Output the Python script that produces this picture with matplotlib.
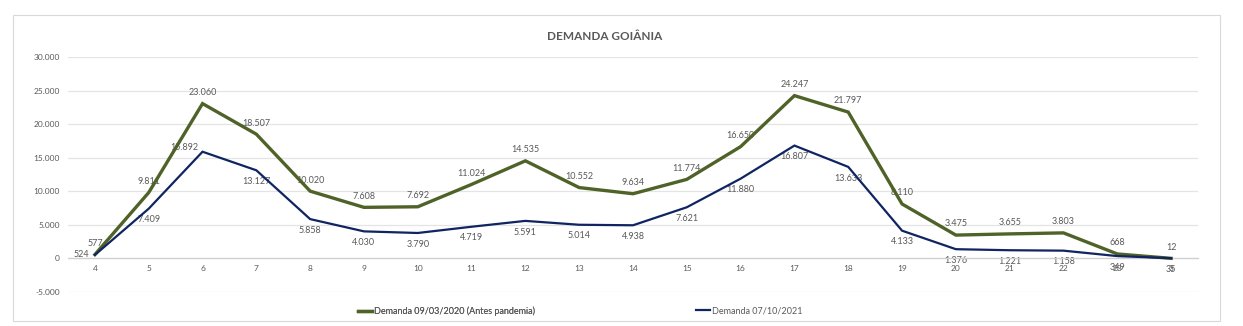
import matplotlib.pyplot as plt
from matplotlib.patches import Rectangle
from matplotlib.lines import Line2D
import numpy as np

plt.rcParams['font.family'] = ['Lato', 'DejaVu Sans']

categories = ["4", "5", "6", "7", "8", "9", "10", "11", "12", "13", "14",
              "15", "16", "17", "18", "19", "20", "21", "22", "23", "3"]
demanda_2020 = [577, 9811, 23060, 18507, 10020, 7608, 7692, 11024, 14535, 10552, 9634,
                11774, 16650, 24247, 21797, 8110, 3475, 3655, 3803, 668, 12]
demanda_2021 = [524, 7409, 15892, 13127, 5858, 4030, 3790, 4719, 5591, 5014, 4938,
                7621, 11880, 16807, 13633, 4133, 1376, 1221, 1158, 349, 35]

GREEN = '#4F6228'
BLUE = '#0F2461'
GRAY = '#595959'


def fmt(v):
    return "{:,}".format(v).replace(",", ".")


fig = plt.figure(figsize=(12.43, 3.26), dpi=100)
ax = fig.add_axes([68 / 1243, 1 - 292 / 326, (1198 - 68) / 1243, (292 - 57) / 326])

# category axis crosses at zero, like excel
for s in ['top', 'left', 'right']:
    ax.spines[s].set_visible(False)
ax.spines['bottom'].set_position(('data', 0))
ax.spines['bottom'].set_color('#D0D0D0')
ax.spines['bottom'].set_linewidth(0.9)

x = np.arange(len(categories))
ax.plot(x, demanda_2020, color=GREEN, lw=2.4, solid_joinstyle='miter', zorder=3)
ax.plot(x, demanda_2021, color=BLUE, lw=1.6, solid_joinstyle='miter', zorder=3)

# data labels: green above, blue below (a couple shifted left like in excel)
for i, v in enumerate(demanda_2020):
    ax.annotate(fmt(v), (i, v), xytext=(0, 8), textcoords='offset points',
                ha='center', va='center', fontsize=6.5, color=GRAY, zorder=2)
left_blue = {0: (-10, 0), 2: (-13, 3)}
for i, v in enumerate(demanda_2021):
    off = left_blue.get(i, (0, -8))
    ax.annotate(fmt(v), (i, v), xytext=off, textcoords='offset points',
                ha='center', va='center', fontsize=6.5, color=GRAY, zorder=2)

ax.set_xlim(-0.5, len(categories) - 0.5)
ax.set_ylim(-5000, 30000)
ax.set_yticks(np.arange(-5000, 30001, 5000))
ax.set_yticklabels([fmt(t) for t in range(-5000, 30001, 5000)])
ax.set_xticks(x)
ax.set_xticklabels(categories)
ax.tick_params(axis='both', length=0, labelsize=6, labelcolor=GRAY)
ax.tick_params(axis='y', pad=6)
ax.tick_params(axis='x', pad=5)
ax.grid(axis='y', color='#E4E4E4', lw=0.9)
ax.set_axisbelow(True)

fig.text(605 / 1243, 1 - 37 / 326, "DEMANDA GOIÂNIA", ha='center', va='center',
         fontsize=8.5, fontweight='bold', color=GRAY)

h1 = Line2D([], [], color=GREEN, lw=2.4)
h2 = Line2D([], [], color=BLUE, lw=1.6)
l1 = fig.legend([h1], ["Demanda 09/03/2020 (Antes pandemia)"], loc='center left',
                bbox_to_anchor=(358 / 1243, 1 - 311 / 326), frameon=False, fontsize=6.5,
                handlelength=1.6, handletextpad=0.2, borderpad=0, borderaxespad=0)
for t in l1.get_texts():
    t.set_color(GRAY)
l2 = fig.legend([h2], ["Demanda 07/10/2021"], loc='center left',
                bbox_to_anchor=(696 / 1243, 1 - 311 / 326), frameon=False, fontsize=6.5,
                handlelength=1.6, handletextpad=0.2, borderpad=0, borderaxespad=0)
for t in l2.get_texts():
    t.set_color(GRAY)
fig.add_artist(l1)

fig.patches.append(Rectangle((13 / 1243, 1 - 321 / 326), (1220 - 13) / 1243, (321 - 15) / 326,
                             transform=fig.transFigure, fill=False, edgecolor='#D9D9D9', lw=0.8))

fig.savefig("out.png", dpi=100)
